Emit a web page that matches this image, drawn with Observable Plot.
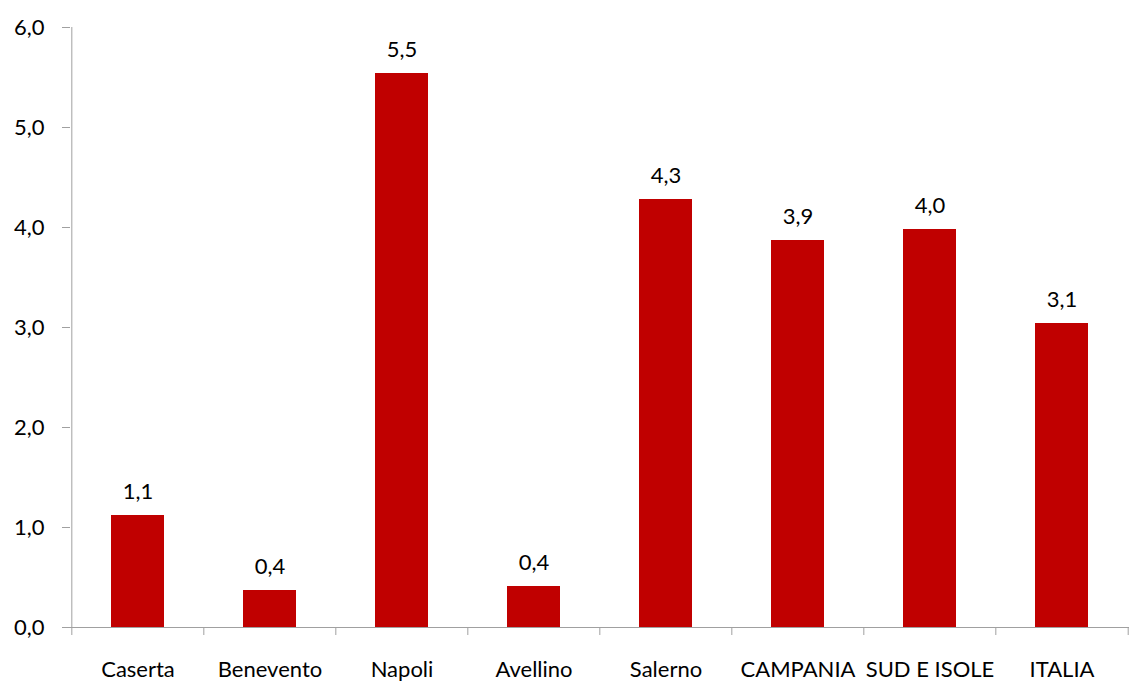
<!DOCTYPE html>
<html>
<head>
<meta charset="utf-8">
<script src="https://cdn.jsdelivr.net/npm/d3@7"></script>
<script src="https://cdn.jsdelivr.net/npm/@observablehq/plot@0.6"></script>
<style>
  html, body { margin: 0; padding: 0; background: #fff; }
  #chart svg { display: block; }
</style>
</head>
<body>
<div id="chart"></div>
<script>
const categories = ["Caserta", "Benevento", "Napoli", "Avellino", "Salerno", "CAMPANIA", "SUD E ISOLE", "ITALIA"];
const values = [1.12, 0.37, 5.54, 0.41, 4.28, 3.87, 3.98, 3.04];
const valueLabels = ["1,1", "0,4", "5,5", "0,4", "4,3", "3,9", "4,0", "3,1"];
const yTicks = [0, 1, 2, 3, 4, 5, 6];

const data = categories.map((c, i) => ({cat: c, value: values[i], label: valueLabels[i]}));

const W = 1130, H = 681, ML = 70, MR = 1, MT = 27, MB = 54;
const step = (W - ML - MR) / categories.length;
const axisGray = "#a0a0a0";
const fmt = d => d.toFixed(1).replace(".", ",");
const FS = 22;

const chart = Plot.plot({
  width: W,
  height: H,
  marginLeft: ML,
  marginRight: MR,
  marginTop: MT,
  marginBottom: MB,
  style: {fontFamily: "Lato, 'Open Sans', sans-serif", fontSize: FS + "px", color: "#000", background: "#fff"},
  x: {domain: categories, paddingInner: 0.6, paddingOuter: 0.3, label: null},
  y: {domain: [0, 6], label: null},
  marks: [
    Plot.barY(data, {x: "cat", y: "value", fill: "#c00000"}),
    Plot.ruleY([0], {stroke: axisGray, strokeWidth: 1}),
    // y axis line (left boundary of first band)
    Plot.ruleX([categories[0]], {x: d => d, y1: -0.08, y2: 6, dx: -step / 2, stroke: axisGray, strokeWidth: 1}),
    // category boundary ticks
    Plot.ruleX(categories.slice(1), {x: d => d, y1: -0.08, y2: 0, dx: -step / 2, stroke: axisGray, strokeWidth: 1}),
    Plot.ruleX([categories[categories.length - 1]], {x: d => d, y1: -0.08, y2: 0, dx: step / 2, stroke: axisGray, strokeWidth: 1}),
    Plot.axisY({ticks: yTicks, tickFormat: fmt, tickSize: 8, tickPadding: 18, stroke: axisGray, fill: "#000", fontSize: FS, label: null}),
    Plot.axisX({tickSize: 0, tickPadding: 34, fill: "#000", fontSize: FS, label: null}),
    Plot.text(data, {x: "cat", y: "value", text: "label", dy: -17, lineAnchor: "bottom", fill: "#000", fontSize: FS})
  ]
});
document.getElementById("chart").appendChild(chart);
</script>
</body>
</html>
